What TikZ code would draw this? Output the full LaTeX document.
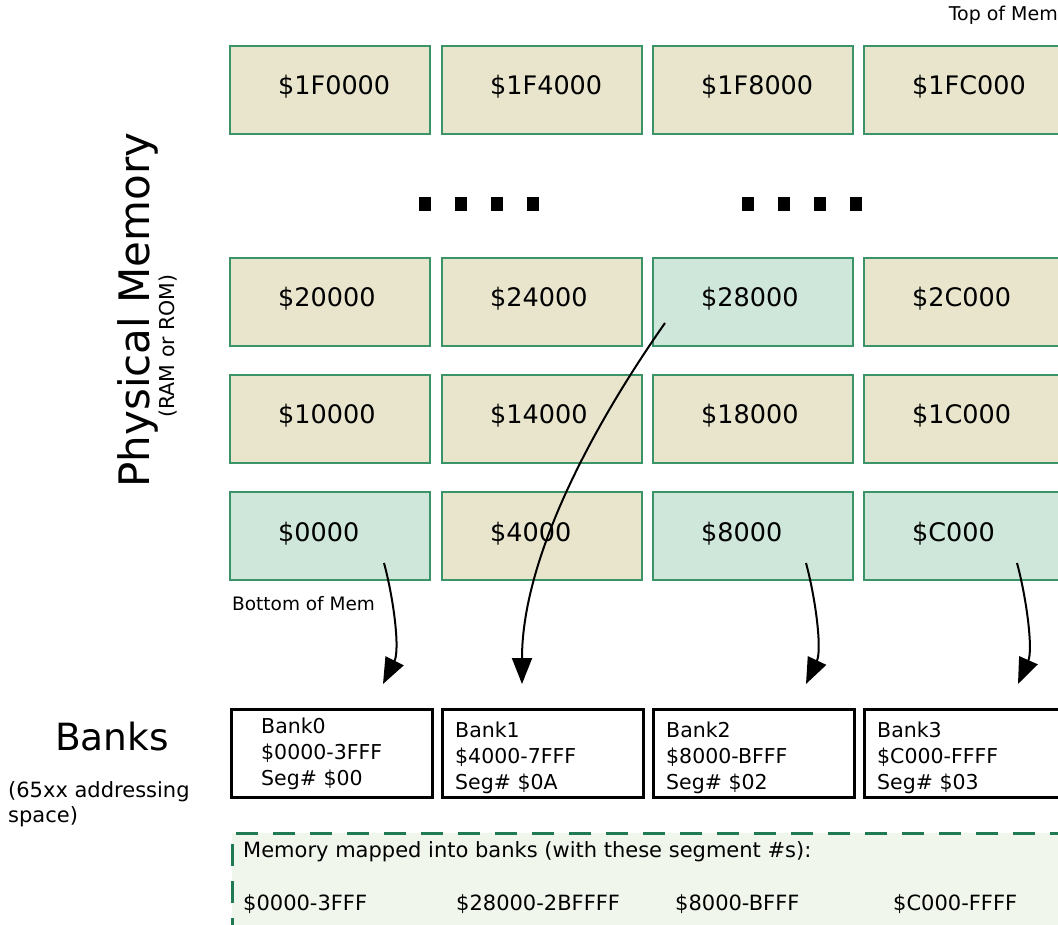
\documentclass[tikz,border=0pt]{standalone}
\usepackage{fontspec}
\setmainfont{DejaVu Sans}
\usetikzlibrary{arrows.meta}

\definecolor{cellbeige}{HTML}{E8E5CC}
\definecolor{cellteal}{HTML}{CFE7DA}
\definecolor{celledge}{HTML}{3A9467}
\definecolor{mapfill}{HTML}{F0F6EC}
\definecolor{mapedge}{HTML}{1F7A52}
\newcommand{\sizeat}[2]{\fontsize{#1}{#2}\selectfont}

\begin{document}
\begin{tikzpicture}[x=1pt,y=-1pt,
  cell/.style={draw=celledge,line width=1.2pt,minimum width=200pt,minimum height=88pt,inner sep=0pt},
  addr/.style={anchor=base west,inner sep=0pt,font=\sizeat{25.5}{30}},
  bank/.style={draw=black,fill=white,line width=3pt,minimum width=201pt,minimum height=88pt,inner sep=0pt},
  banktext/.style={anchor=base west,inner sep=0pt,align=left,font=\sizeat{20.5}{26}},
  maptext/.style={anchor=base west,inner sep=0pt,font=\sizeat{21}{26}},
  dot/.style={fill=black,minimum width=12pt,minimum height=14pt,inner sep=0pt},
  maparrow/.style={line width=2pt,-{Triangle[length=26pt,width=20pt]}}
]
\clip (0,0) rectangle (1058,925);

% physical memory, top row
\node[cell,fill=cellbeige] (c1F0000) at (330,90) {};
\node[cell,fill=cellbeige] (c1F4000) at (542,90) {};
\node[cell,fill=cellbeige] (c1F8000) at (753,90) {};
\node[cell,fill=cellbeige] (c1FC000) at (964,90) {};
\node[addr] (t1F0000) at (278,95) {\$1F0000};
\node[addr] (t1F4000) at (490,95) {\$1F4000};
\node[addr] (t1F8000) at (701,95) {\$1F8000};
\node[addr] (t1FC000) at (912,95) {\$1FC000};

% dots
\node[dot] (d1) at (424.5,204) {};
\node[dot] (d2) at (461,204) {};
\node[dot] (d3) at (497,204) {};
\node[dot] (d4) at (533,204) {};
\node[dot] (d5) at (747.5,204) {};
\node[dot] (d6) at (784,204) {};
\node[dot] (d7) at (820,204) {};
\node[dot] (d8) at (856,204) {};

\node[cell,fill=cellbeige] (c20000) at (330,302) {};
\node[cell,fill=cellbeige] (c24000) at (542,302) {};
\node[cell,fill=cellteal] (c28000) at (753,302) {};
\node[cell,fill=cellbeige] (c2C000) at (964,302) {};
\node[addr] (t20000) at (278,307) {\$20000};
\node[addr] (t24000) at (490,307) {\$24000};
\node[addr] (t28000) at (701,307) {\$28000};
\node[addr] (t2C000) at (912,307) {\$2C000};

\node[cell,fill=cellbeige] (c10000) at (330,419) {};
\node[cell,fill=cellbeige] (c14000) at (542,419) {};
\node[cell,fill=cellbeige] (c18000) at (753,419) {};
\node[cell,fill=cellbeige] (c1C000) at (964,419) {};
\node[addr] (t10000) at (278,424) {\$10000};
\node[addr] (t14000) at (490,424) {\$14000};
\node[addr] (t18000) at (701,424) {\$18000};
\node[addr] (t1C000) at (912,424) {\$1C000};

\node[cell,fill=cellteal] (c0000) at (330,536) {};
\node[cell,fill=cellbeige] (c4000) at (542,536) {};
\node[cell,fill=cellteal] (c8000) at (753,536) {};
\node[cell,fill=cellteal] (cC000) at (964,536) {};
\node[addr] (t0000) at (278,541) {\$0000};
\node[addr] (t4000) at (490,541) {\$4000};
\node[addr] (t8000) at (701,541) {\$8000};
\node[addr] (tC000) at (912,541) {\$C000};

\node[anchor=base east,inner sep=0pt,font=\sizeat{19}{22}] (topmem) at (1058,21) {Top of Mem};
\node[anchor=base west,inner sep=0pt,font=\sizeat{18.5}{22}] (botmem) at (232,610) {Bottom of Mem};

\node[rotate=90,anchor=base,inner sep=0pt,font=\sizeat{42}{48}] (physmem) at (149,310) {Physical Memory};
\node[rotate=90,anchor=base,inner sep=0pt,font=\sizeat{20.5}{24}] (ramrom) at (174,346) {(RAM or ROM)};

% banks
\node[anchor=base,inner sep=0pt,font=\sizeat{37.5}{42}] (banks) at (112,750) {Banks};
\node[anchor=base west,inner sep=0pt,align=left,font=\sizeat{21}{25}] (space) at (8,822) {(65xx addressing\\space)};

\node[bank] (bank0) at (331.5,753) {};
\node[bank] (bank1) at (542.5,753) {};
\node[bank] (bank2) at (753.5,753) {};
\node[bank] (bank3) at (964.5,753) {};
\node[banktext] (b0) at (261,785) {Bank0\\\$0000-3FFF\\Seg\# \$00};
\node[banktext] (b1) at (455,789) {Bank1\\\$4000-7FFF\\Seg\# \$0A};
\node[banktext] (b2) at (666,789) {Bank2\\\$8000-BFFF\\Seg\# \$02};
\node[banktext] (b3) at (877,789) {Bank3\\\$C000-FFFF\\Seg\# \$03};

% mapping
\node[anchor=north west,draw=mapedge,fill=mapfill,line width=2.5pt,dash pattern=on 22pt off 15pt,minimum width=900pt,minimum height=150pt] (mapbox) at (231,832) {};
\node[maptext] (mapcap) at (243,857) {Memory mapped into banks (with these segment \#s):};
\node[maptext] (m0) at (243,910) {\$0000-3FFF};
\node[maptext] (m1) at (456,910) {\$28000-2BFFFF};
\node[maptext] (m2) at (675,910) {\$8000-BFFF};
\node[maptext] (m3) at (893,910) {\$C000-FFFF};

% arrows
\coordinate (s0) at (384,563);
\coordinate (s1) at (665,323);
\coordinate (s2) at (806,563);
\coordinate (s3) at (1017,563);
\coordinate (e0) at (383,684);
\coordinate (e1) at (522,684);
\coordinate (e2) at (806,684);
\coordinate (e3) at (1018,684);
\draw[maparrow] (s0) .. controls (394,600) and (400,650) .. (e0);
\draw[maparrow] (s1) .. controls (590,430) and (522,560) .. (e1);
\draw[maparrow] (s2) .. controls (816,600) and (822,650) .. (e2);
\draw[maparrow] (s3) .. controls (1027,600) and (1033,650) .. (e3);

\end{tikzpicture}
\end{document}
